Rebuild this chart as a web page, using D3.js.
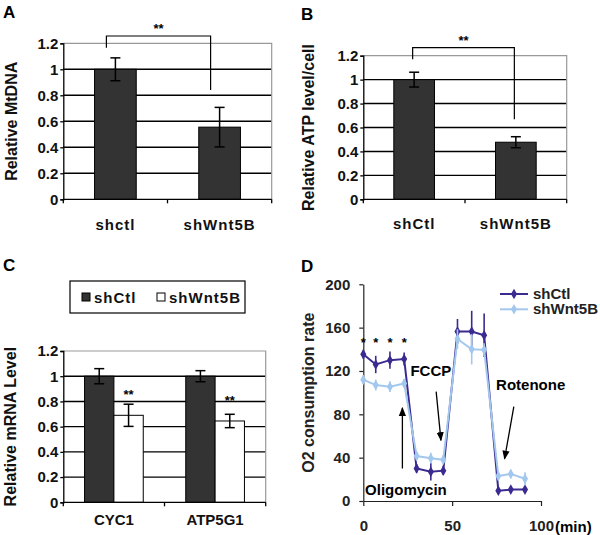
<!DOCTYPE html>
<html>
<head>
<meta charset="utf-8">
<script src="https://cdn.jsdelivr.net/npm/d3@7"></script>
<style>
    body { margin: 0; background: #fff; }
    svg { display: block; font-family: "Liberation Sans", Arial, sans-serif; }
</style>
</head>
<body>
<svg id="fig" width="600" height="535"></svg>
<script>
    // ---- data ----
    var barTicks = [0, 0.2, 0.4, 0.6, 0.8, 1, 1.2];

    // A: mitochondrial DNA
    var mtCats = ['shctl', 'shWnt5B'];
    var mtMean = [1.0, 0.555];
    var mtErr = [0.088, 0.152];

    // B: ATP per cell
    var atpCats = ['shCtl', 'shWnt5B'];
    var atpMean = [1.0, 0.477];
    var atpErr = [0.062, 0.046];

    // C: mRNA levels
    var genes = ['CYC1', 'ATP5G1'];
    var mrnaSeries = ['shCtl', 'shWnt5B'];
    var mrnaCtl = [1.0, 1.0];
    var mrnaCtlErr = [0.06, 0.044];
    var mrnaKd = [0.69, 0.645];
    var mrnaKdErr = [0.088, 0.053];
    var mrnaStarAt = [0.875, 0.83];

    // D: oxygen consumption
    var ocrTicksY = [0, 40, 80, 120, 160, 200];
    var ocrTicksX = [0, 50, 100];
    var ocrTimes = [0, 7, 15, 23, 30, 38, 45, 53, 61, 68, 76, 83, 91];
    var ocrCtl = [135.5, 126, 130, 131, 30, 27, 28, 156.5, 156.5, 153, 9.5, 10.5, 10.5];
    var ocrCtlErr = [4, 8, 8, 6, 4, 8, 4, 11.5, 19, 20, 3, 3, 3];
    var ocrKd = [112, 107, 105.5, 108.5, 41.5, 39.5, 38, 149.5, 140, 139.5, 23, 25, 20.5];
    var ocrKdErr = [4, 5, 5, 4, 4, 5, 4, 9, 14, 6, 4, 4, 6];
    var ocrStarIdx = [0, 1, 2, 3];

    var DARK = '#333333',
        CTL = '#3b2a8f',
        KD = '#a3c8ee';

    var svg = d3.select('#fig');

    svg.append('defs').append('marker')
        .attr('id', 'head')
        .attr('viewBox', '0 0 10 10')
        .attr('refX', 9).attr('refY', 5)
        .attr('markerWidth', 9).attr('markerHeight', 9)
        .attr('markerUnits', 'userSpaceOnUse')
        .attr('orient', 'auto')
        .append('path')
        .attr('d', 'M0,1L10,5L0,9Z')
        .attr('fill', '#000');

    function panelTitle(label, x, y) {
        svg.append('text')
            .attr('x', x).attr('y', y)
            .attr('font-size', 17).attr('font-weight', 'bold')
            .text(label);
    }

    function barPanel(opt) {
        var g = svg.append('g');
        var y = d3.scaleLinear().domain([0, 1.2]).range([opt.bottom, opt.top]);
        var x = d3.scaleBand()
            .domain(opt.cats)
            .range([opt.left, opt.right])
            .paddingInner(opt.pi)
            .paddingOuter(opt.po);
        var inner = d3.scaleBand()
            .domain(d3.range(opt.series.length))
            .range([0, x.bandwidth()]);

        g.selectAll('line.grid')
            .data(barTicks.filter(function (t) { return t > 0 && t < 1.2; }))
            .enter().append('line')
            .attr('x1', opt.left).attr('x2', opt.right)
            .attr('y1', y).attr('y2', y)
            .attr('stroke', '#000').attr('stroke-width', 1.4);

        g.append('path')
            .attr('d', 'M' + opt.left + ',' + y(1.2) + 'H' + opt.right + 'V' + y(0))
            .attr('fill', 'none').attr('stroke', '#999').attr('stroke-width', 1.2);

        opt.series.forEach(function (s, si) {
            var cx = function (c) { return x(c) + inner(si) + inner.bandwidth() / 2; };
            g.selectAll(null).data(opt.cats).enter().append('rect')
                .attr('x', function (c) { return x(c) + inner(si); })
                .attr('y', function (c, i) { return y(s.mean[i]); })
                .attr('width', inner.bandwidth())
                .attr('height', function (c, i) { return y(0) - y(s.mean[i]); })
                .attr('fill', s.fill)
                .attr('stroke', '#000').attr('stroke-width', 1);

            var eb = g.selectAll(null).data(opt.cats).enter().append('g')
                .attr('stroke', '#000').attr('stroke-width', 1.5);
            eb.append('line')
                .attr('x1', cx).attr('x2', cx)
                .attr('y1', function (c, i) { return y(s.mean[i] - s.err[i]); })
                .attr('y2', function (c, i) { return y(s.mean[i] + s.err[i]); });
            [-1, 1].forEach(function (sgn) {
                eb.append('line')
                    .attr('x1', function (c) { return cx(c) - 5; })
                    .attr('x2', function (c) { return cx(c) + 5; })
                    .attr('y1', function (c, i) { return y(s.mean[i] + sgn * s.err[i]); })
                    .attr('y2', function (c, i) { return y(s.mean[i] + sgn * s.err[i]); });
            });
        });

        var ax = g.append('g')
            .attr('transform', 'translate(' + opt.left + ',0)')
            .call(d3.axisLeft(y).tickValues(barTicks).tickSize(3).tickPadding(2)
                .tickFormat(d3.format('~g')));
        ax.select('.domain').attr('stroke-width', 1.3);
        ax.selectAll('.tick line').attr('stroke-width', 1.3);
        ax.selectAll('text')
            .attr('font-size', 15).attr('font-weight', 'bold')
            .attr('font-family', '"Liberation Sans", Arial, sans-serif')
            .attr('fill', '#111');

        // category axis: baseline with ticks at the band boundaries
        var edges = opt.cats.map(function (c) { return x(c) - x.step() * x.paddingInner() / 2; });
        edges[0] = opt.left;
        edges.push(opt.right);
        g.append('line')
            .attr('x1', opt.left).attr('x2', opt.right)
            .attr('y1', y(0)).attr('y2', y(0))
            .attr('stroke', '#000').attr('stroke-width', 1.3);
        g.selectAll(null).data(edges).enter().append('line')
            .attr('x1', function (d) { return d; }).attr('x2', function (d) { return d; })
            .attr('y1', y(0)).attr('y2', y(0) + 4)
            .attr('stroke', '#000').attr('stroke-width', 1.3);

        g.selectAll(null).data(opt.cats).enter().append('text')
            .attr('x', function (c) { return x(c) + x.bandwidth() / 2; })
            .attr('y', opt.catY)
            .attr('text-anchor', 'middle')
            .attr('font-size', 15).attr('font-weight', 'bold')
            .attr('letter-spacing', opt.spacing || 0)
            .attr('fill', '#111')
            .text(function (c) { return c; });

        g.append('text')
            .attr('transform', 'translate(' + opt.labelX + ',' + (opt.top + opt.bottom) / 2 + ') rotate(-90)')
            .attr('text-anchor', 'middle')
            .attr('font-size', 16).attr('font-weight', 'bold')
            .attr('fill', '#111')
            .text(opt.ylabel);

        if (opt.bracket) {
            var b = opt.bracket,
                x1 = x(opt.cats[0]) + x.bandwidth() / 2 + b.dx,
                x2 = x(opt.cats[1]) + x.bandwidth() / 2 + b.dx;
            g.append('path')
                .attr('d', 'M' + x1 + ',' + y(b.left) + 'V' + y(b.top) + 'H' + x2 + 'V' + y(b.right))
                .attr('fill', 'none').attr('stroke', '#000').attr('stroke-width', 1.2);
            g.append('text')
                .attr('x', (x1 + x2) / 2).attr('y', y(b.top) - 3)
                .attr('text-anchor', 'middle')
                .attr('font-size', 13).attr('font-weight', 'bold')
                .text('**');
        }

        return { x: x, y: y, inner: inner, g: g };
    }

    // ---- A ----
    panelTitle('A', 3, 18);
    barPanel({
        left: 63.3, right: 271.7, top: 43.3, bottom: 199.3,
        pi: 0.6, po: 0.3, cats: mtCats,
        series: [{ mean: mtMean, err: mtErr, fill: DARK }],
        catY: 230, spacing: 1, labelX: 17, ylabel: 'Relative MtDNA',
        bracket: { left: 1.166, top: 1.256, right: 0.84, dx: -9 }
    });

    // ---- B ----
    panelTitle('B', 301, 20);
    barPanel({
        left: 363.3, right: 566.7, top: 55.7, bottom: 199.3,
        pi: 0.6, po: 0.3, cats: atpCats,
        series: [{ mean: atpMean, err: atpErr, fill: DARK }],
        catY: 229, spacing: 1, labelX: 314, ylabel: 'Relative ATP level/cell',
        bracket: { left: 1.17, top: 1.267, right: 0.668, dx: -1.5 }
    });

    // ---- C ----
    panelTitle('C', 3, 271);
    var pc = barPanel({
        left: 63.3, right: 265.7, top: 351, bottom: 502.3,
        pi: 0.42, po: 0.21, cats: genes,
        series: [
            { mean: mrnaCtl, err: mrnaCtlErr, fill: DARK },
            { mean: mrnaKd, err: mrnaKdErr, fill: '#fff' }
        ],
        catY: 525, labelX: 16, ylabel: 'Relative mRNA Level'
    });
    pc.g.selectAll(null).data(genes).enter().append('text')
        .attr('x', function (c) { return pc.x(c) + pc.inner(1) + pc.inner.bandwidth() / 2; })
        .attr('y', function (c, i) { return pc.y(mrnaStarAt[i]) + 7; })
        .attr('text-anchor', 'middle')
        .attr('font-size', 13).attr('font-weight', 'bold')
        .text('**');

    var leg = svg.append('g');
    leg.append('rect')
        .attr('x', 70).attr('y', 281).attr('width', 175).attr('height', 32)
        .attr('fill', '#fff').attr('stroke', '#000').attr('stroke-width', 1.2);
    var legX = [82, 157];
    mrnaSeries.forEach(function (s, i) {
        leg.append('rect')
            .attr('x', legX[i]).attr('y', 293).attr('width', 8).attr('height', 8)
            .attr('fill', i === 0 ? DARK : '#fff')
            .attr('stroke', '#000').attr('stroke-width', 1);
        leg.append('text')
            .attr('x', legX[i] + 12).attr('y', 302.5)
            .attr('font-size', 15).attr('font-weight', 'bold')
            .attr('letter-spacing', 1)
            .attr('fill', '#111')
            .text(s);
    });

    // ---- D ----
    panelTitle('D', 301, 272);
    var dx = d3.scaleLinear().domain([0, 100]).range([363.3, 541]);
    var dy = d3.scaleLinear().domain([0, 200]).range([501, 284.3]);
    var gd = svg.append('g');

    var axY = gd.append('g')
        .attr('transform', 'translate(' + dx(0) + ',0)')
        .call(d3.axisLeft(dy).tickValues(ocrTicksY).tickSize(4).tickPadding(9).tickSizeOuter(0));
    var axX = gd.append('g')
        .attr('transform', 'translate(0,' + dy(0) + ')')
        .call(d3.axisBottom(dx).tickValues(ocrTicksX).tickSize(5).tickPadding(14).tickSizeOuter(0));
    [axY, axX].forEach(function (a) {
        a.select('.domain').attr('stroke', '#222').attr('stroke-width', 1.2);
        a.selectAll('.tick line').attr('stroke', '#222').attr('stroke-width', 1.2);
        a.selectAll('text')
            .attr('font-size', 15).attr('font-weight', 'bold')
            .attr('font-family', '"Liberation Sans", Arial, sans-serif')
            .attr('fill', '#222');
    });
    gd.append('text')
        .attr('x', dx(100) + 14).attr('y', dy(0) + 31)
        .attr('font-size', 15).attr('font-weight', 'bold')
        .text('(min)');
    gd.append('text')
        .attr('transform', 'translate(314,' + dy(100) + ') rotate(-90)')
        .attr('text-anchor', 'middle')
        .attr('font-size', 16).attr('font-weight', 'bold')
        .attr('fill', '#222')
        .text('O2 consumption rate');

    var ocrSeries = [
        { name: 'shCtl', mean: ocrCtl, err: ocrCtlErr, color: CTL },
        { name: 'shWnt5B', mean: ocrKd, err: ocrKdErr, color: KD }
    ];
    var line = d3.line()
        .x(function (d) { return dx(d[0]); })
        .y(function (d) { return dy(d[1]); });
    var diamond = d3.symbol().type(d3.symbolDiamond).size(32);

    ocrSeries.forEach(function (s) {
        var pts = ocrTimes.map(function (t, i) { return [t, s.mean[i], s.err[i]]; });
        gd.selectAll(null).data(pts).enter().append('line')
            .attr('x1', function (d) { return dx(d[0]); })
            .attr('x2', function (d) { return dx(d[0]); })
            .attr('y1', function (d) { return dy(d[1] - d[2]); })
            .attr('y2', function (d) { return dy(d[1] + d[2]); })
            .attr('stroke', s.color).attr('stroke-width', 1.6);
        gd.append('path')
            .attr('d', line(pts))
            .attr('fill', 'none').attr('stroke', s.color).attr('stroke-width', 2);
        gd.selectAll(null).data(pts).enter().append('path')
            .attr('d', diamond)
            .attr('transform', function (d) { return 'translate(' + dx(d[0]) + ',' + dy(d[1]) + ')'; })
            .attr('fill', s.color);
    });

    gd.selectAll(null).data(ocrStarIdx).enter().append('text')
        .attr('x', function (i) { return dx(ocrTimes[i]); })
        .attr('y', function (i) { return dy(150) + 9; })
        .attr('text-anchor', 'middle')
        .attr('font-size', 13).attr('font-weight', 'bold')
        .text('*');

    // drug injections: arrows and labels, in data units
    var arrows = [
        { from: [22, 30], to: [22, 86] },
        { from: [41, 101], to: [43.7, 56] },
        { from: [84.7, 87], to: [79.5, 39] }
    ];
    gd.selectAll(null).data(arrows).enter().append('line')
        .attr('x1', function (a) { return dx(a.from[0]); })
        .attr('y1', function (a) { return dy(a.from[1]); })
        .attr('x2', function (a) { return dx(a.to[0]); })
        .attr('y2', function (a) { return dy(a.to[1]); })
        .attr('stroke', '#000').attr('stroke-width', 1.3)
        .attr('marker-end', 'url(#head)');

    var drugs = [
        { text: 'Oligomycin', at: [24, 5.5] },
        { text: 'FCCP', at: [38, 115] },
        { text: 'Rotenone', at: [94.2, 102.5] }
    ];
    gd.selectAll(null).data(drugs).enter().append('text')
        .attr('x', function (d) { return dx(d.at[0]); })
        .attr('y', function (d) { return dy(d.at[1]); })
        .attr('text-anchor', 'middle')
        .attr('font-size', 15).attr('font-weight', 'bold')
        .text(function (d) { return d.text; });

    var lg = gd.append('g');
    ocrSeries.forEach(function (s, i) {
        var ly = 294 + i * 15.3;
        lg.append('line')
            .attr('x1', 500).attr('x2', 528)
            .attr('y1', ly).attr('y2', ly)
            .attr('stroke', s.color).attr('stroke-width', 2);
        lg.append('path')
            .attr('d', diamond)
            .attr('transform', 'translate(514,' + ly + ')')
            .attr('fill', s.color);
        lg.append('text')
            .attr('x', 533).attr('y', ly + 5)
            .attr('font-size', 15).attr('font-weight', 'bold')
            .attr('fill', '#222')
            .text(s.name);
    });
</script>
</body>
</html>
